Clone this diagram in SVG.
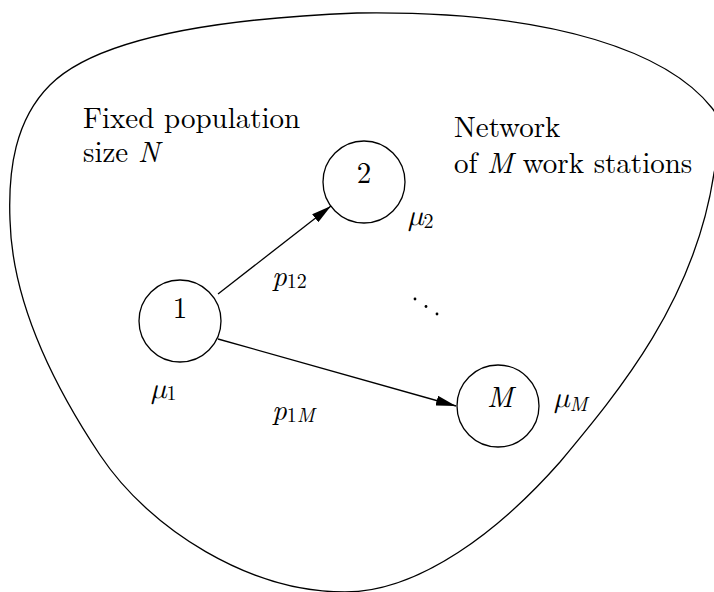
<svg xmlns="http://www.w3.org/2000/svg" width="714" height="592" viewBox="0 0 714 592">
<style>
.t{font-family:'Latin Modern Roman','Latin Modern Math','Liberation Serif',serif;font-size:29px;fill:#000}
.i{font-style:italic}
.s{font-size:20px}
.node{fill:none;stroke:#000;stroke-width:1.3}
.edge{fill:none;stroke:#000;stroke-width:1.3}
.blob{fill:none;stroke:#000;stroke-width:1.3}
</style>
<defs>
<marker id="ah" markerWidth="20" markerHeight="10" refX="20" refY="5" orient="auto" markerUnits="userSpaceOnUse">
<path d="M0,0 L20,5 L0,10 Z" fill="#000"/>
</marker>
</defs>
<rect width="714" height="592" fill="#fff"/>
<path class="blob" d="M357,13 C230,18 100,35 50,85 C15,120 8,170 10,220 C12,300 50,380 100,455 C150,530 250,592 345,592 C420,592 500,530 560,462 C620,390 695,300 714,173 C722,140 722,120 712,108 C670,55 560,10 357,13 Z"/>
<g id="labels">
<text class="t" x="83" y="128">Fixed population</text>
<text class="t" x="83" y="162">size <tspan class="i">N</tspan></text>
<text class="t" x="454" y="137">Network</text>
<text class="t" x="454" y="173">of <tspan class="i">M</tspan> work stations</text>
</g>
<g id="node1">
<circle class="node" cx="180" cy="321" r="41"/>
<text class="t" x="180" y="318" text-anchor="middle">1</text>
<text class="t i" x="151" y="398">μ<tspan class="s" font-style="normal" dy="2">1</tspan></text>
</g>
<g id="node2">
<circle class="node" cx="364" cy="182" r="41"/>
<text class="t" x="364" y="183" text-anchor="middle">2</text>
<text class="t i" x="408" y="225">μ<tspan class="s" font-style="normal" dy="3">2</tspan></text>
</g>
<g id="nodeM">
<circle class="node" cx="498" cy="406" r="41"/>
<text class="t i" x="500" y="407" text-anchor="middle">M</text>
<text class="t i" x="554" y="407">μ<tspan class="s" dy="4">M</tspan></text>
</g>
<g id="dots">
<circle cx="415" cy="299" r="1.4"/>
<circle cx="426" cy="306.5" r="1.4"/>
<circle cx="437" cy="314" r="1.4"/>
</g>
<g id="connectors">
<line class="edge" x1="218" y1="294" x2="331" y2="206" marker-end="url(#ah)"/>
<line class="edge" x1="218" y1="339" x2="456" y2="406" marker-end="url(#ah)"/>
<text class="t i" x="272" y="286">p<tspan class="s" font-style="normal" dy="2">12</tspan></text>
<text class="t i" x="272" y="420">p<tspan class="s" font-style="normal" dy="2">1</tspan><tspan class="s">M</tspan></text>
</g>
</svg>
